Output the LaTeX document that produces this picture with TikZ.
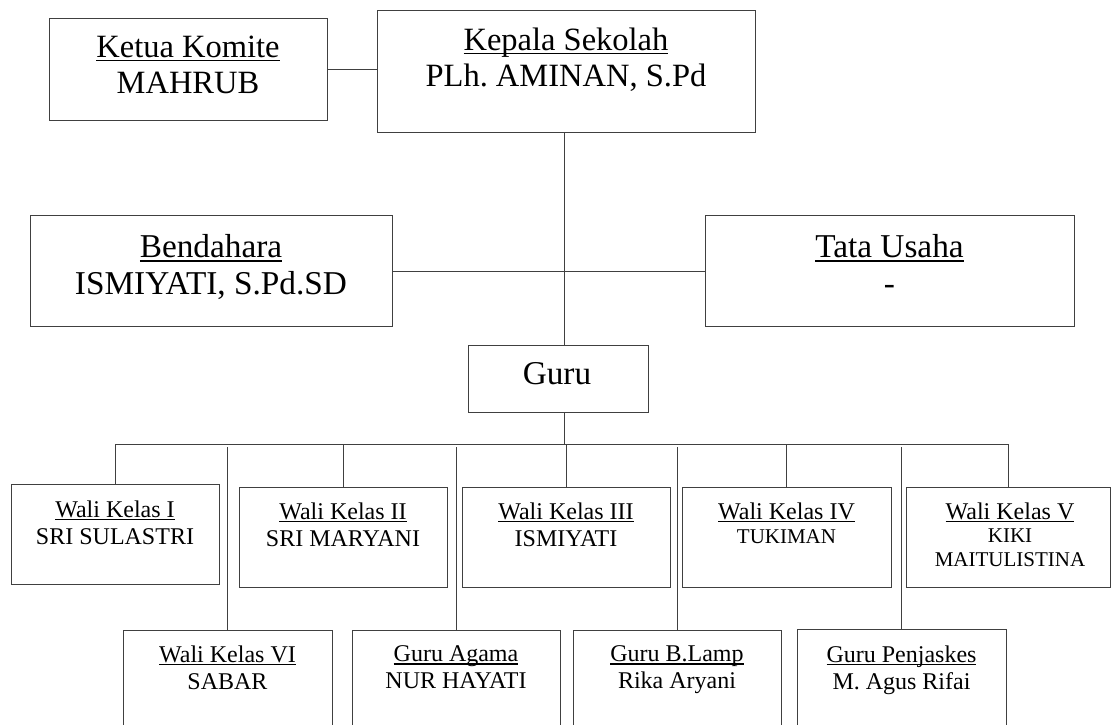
\documentclass[tikz,border=0pt]{standalone}
\usepackage{fontspec}
\setmainfont{Liberation Serif}
\usetikzlibrary{fit}
\frenchspacing
\newcommand\ulin[1]{\setbox0\hbox{#1}\rlap{\rule[-0.12em]{\wd0}{0.05em}}\box0}
\tikzset{
  box/.style={draw=black!75, line width=1pt, inner sep=0pt, rectangle},
  conn/.style={draw=black!75, line width=1pt},
  toptxt/.style={font=\fontsize{32.5}{36}\selectfont, align=center, inner sep=0pt, anchor=north},
  bigtxt/.style={font=\fontsize{33.3}{37}\selectfont, align=center, inner sep=0pt, anchor=north},
  smalltxt/.style={font=\fontsize{24}{27}\selectfont, align=center, inner sep=0pt, anchor=north},
  tinytxt/.style={font=\fontsize{21}{23.5}\selectfont, align=center, inner sep=0pt, anchor=north},
}
\begin{document}
\begin{tikzpicture}[x=1pt,y=-1pt]
\useasboundingbox (0,0) rectangle (1111,724);
\clip (0,0) rectangle (1111,724);
% boxes
\node[box, fit={(49,18) (327,120)}] (ketua) {};
\node[box, fit={(377,10) (755,132)}] (kepala) {};
\node[box, fit={(30,215) (392,326)}] (bend) {};
\node[box, fit={(705,215) (1074,326)}] (tata) {};
\node[box, fit={(468,345) (648,412)}] (guru) {};
\node[box, fit={(11,484) (219,584)}] (w1) {};
\node[box, fit={(239,487) (447,587)}] (w2) {};
\node[box, fit={(462,487) (670,587)}] (w3) {};
\node[box, fit={(682,487) (891,587)}] (w4) {};
\node[box, fit={(906,487) (1110,587)}] (w5) {};
\node[box, fit={(123,630) (332,740)}] (w6) {};
\node[box, fit={(352,630) (560,740)}] (ga) {};
\node[box, fit={(573,630) (781,740)}] (gb) {};
\node[box, fit={(797,629) (1006,740)}] (gp) {};
% texts
\node[toptxt] (tketua) at (188,35.8) {\ulin{Ketua Komite}\\MAHRUB};
\node[toptxt] (tkepala) at (566,27.8) {\ulin{Kepala Sekolah}\\PLh. AMINAN, S.Pd};
\node[bigtxt] (tbend) at (211,234.3) {\ulin{Bendahara}\\ISMIYATI, S.Pd.SD};
\node[bigtxt] (ttata) at (889.5,234.3) {\ulin{Tata Usaha}\\-};
\node[bigtxt] (tguru) at (557,362) {Guru};
\node[smalltxt] (tw1) at (115,500.6) {\ulin{Wali Kelas I}\\SRI SULASTRI};
\node[smalltxt] (tw2) at (343,502.6) {\ulin{Wali Kelas II}\\SRI MARYANI};
\node[smalltxt] (tw3) at (566,502.6) {\ulin{Wali Kelas III}\\ISMIYATI};
\node[tinytxt] (tw4) at (786.5,502.6) {{\fontsize{24}{27}\selectfont\ulin{Wali Kelas IV}}\\[1pt]TUKIMAN};
\node[tinytxt] (tw5) at (1010,502.6) {{\fontsize{24}{27}\selectfont\ulin{Wali Kelas V}}\\KIKI\\MAITULISTINA};
\node[smalltxt] (tw6) at (227.5,645.6) {\ulin{Wali Kelas VI}\\SABAR};
\node[smalltxt] (tga) at (456,645.6) {\ulin{Guru Agama}\\NUR HAYATI};
\node[smalltxt] (tgb) at (677,645.6) {\ulin{Guru B.Lamp}\\Rika Aryani};
\node[smalltxt] (tgp) at (901.5,645.6) {\ulin{Guru Penjaskes}\\M. Agus Rifai};
% connector helpers
\coordinate (trunk) at (564,271);
\coordinate (bus) at (564,444);
\coordinate (gap) at (564,447);
% connectors
\draw[conn] (ketua.east) -- (kepala.west |- ketua.east);
\draw[conn] (kepala.south -| trunk) -- (guru.north -| trunk);
\draw[conn] (bend.east |- trunk) -- (tata.west |- trunk);
\draw[conn] (guru.south -| trunk) -- (bus);
\draw[conn] (w1.north |- bus) -- (w5.north |- bus);
\foreach \n in {w1,w2,w3,w4,w5} \draw[conn] (\n.north |- bus) -- (\n.north);
\foreach \n in {w6,ga,gb,gp} \draw[conn] (\n.north |- gap) -- (\n.north);
\end{tikzpicture}
\end{document}
